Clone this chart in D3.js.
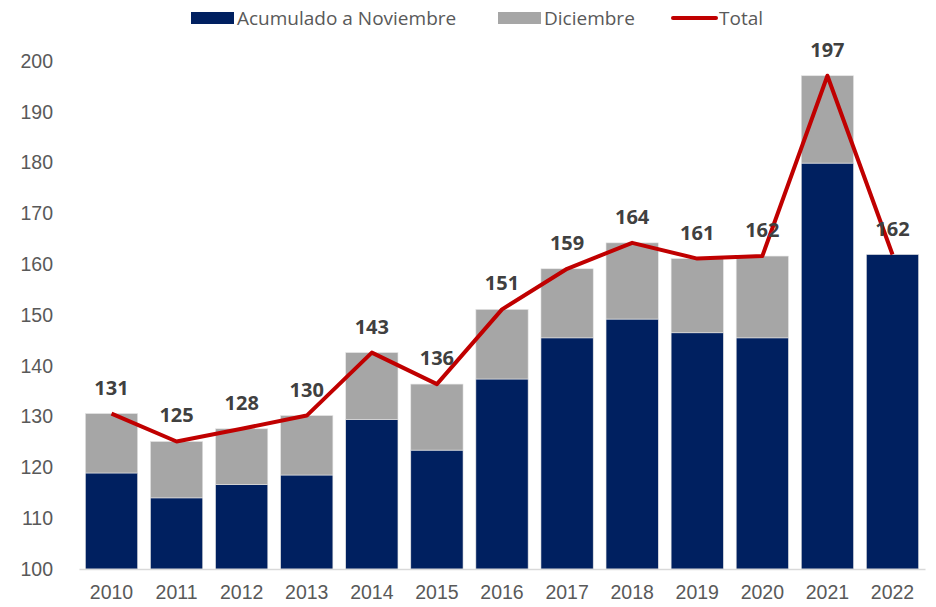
<!DOCTYPE html>
<html>
<head>
<meta charset="utf-8">
<script src="https://cdn.jsdelivr.net/npm/d3@7"></script>
<style>
  body { margin: 0; background: #fff; }
  svg { display: block; font-family: "Open Sans", Lato, sans-serif; }
</style>
</head>
<body>
<svg id="chart" width="936" height="607"></svg>
<script>
// data
const years = ['2010', '2011', '2012', '2013', '2014', '2015', '2016', '2017', '2018', '2019', '2020', '2021', '2022'];
const acumulado = [118.9, 114.0, 116.6, 118.5, 129.4, 123.4, 137.4, 145.5, 149.2, 146.5, 145.5, 179.9, 161.9];
const diciembre = [11.7, 11.1, 11.0, 11.7, 13.2, 13.0, 13.7, 13.6, 15.0, 14.6, 16.1, 17.2, 0];
const yTicks = [100, 110, 120, 130, 140, 150, 160, 170, 180, 190, 200];
const seriesNames = ['Acumulado a Noviembre', 'Diciembre', 'Total'];

const colors = { acum: '#002060', dic: '#A6A6A6', total: '#C00000' };

const rows = years.map((y, i) => ({
    year: y,
    acum: acumulado[i],
    dic: diciembre[i],
    total: acumulado[i] + diciembre[i]
}));

const margin = { top: 61, right: 11, bottom: 38, left: 79 };
const width = 936, height = 607;
const _width = width - margin.left - margin.right;
const _height = height - margin.top - margin.bottom;

const svg = d3.select('#chart');
const g = svg.append('g').attr('transform', `translate(${margin.left},${margin.top})`);

const xScale = d3.scaleBand()
    .domain(years)
    .range([0, _width])
    .paddingInner(0.197)
    .paddingOuter(0.098);

const yScale = d3.scaleLinear()
    .domain([100, 200])
    .range([_height, 0]);

// stacked bars, starting from the axis baseline (100)
const stack = d3.stack().keys(['acum', 'dic']).offset((series) => {
    for (let i = 0; i < series[0].length; i++) {
        series[0][i][0] = 100;
        series[0][i][1] = rows[i].acum;
        series[1][i][0] = rows[i].acum;
        series[1][i][1] = rows[i].acum + rows[i].dic;
    }
});
const stacked = stack(rows);

g.selectAll('.layer')
    .data(stacked)
    .enter()
    .append('g')
    .attr('class', 'layer')
    .attr('fill', (d) => colors[d.key])
    .selectAll('rect')
    .data((d) => d.filter((p) => p[1] > p[0]))
    .enter()
    .append('rect')
    .attr('x', (d) => xScale(d.data.year))
    .attr('y', (d) => yScale(d[1]))
    .attr('width', xScale.bandwidth())
    .attr('height', (d) => yScale(d[0]) - yScale(d[1]))
    .attr('stroke', '#e4e4e4')
    .attr('stroke-width', 0.6);

// axes
const xAxis = d3.axisBottom(xScale).tickSize(0).tickPadding(16);
const yAxis = d3.axisLeft(yScale).tickValues(yTicks).tickSize(0).tickPadding(26);

const gx = g.append('g')
    .attr('transform', `translate(0,${_height})`)
    .call(xAxis);
gx.select('.domain').attr('stroke', '#d9d9d9').attr('stroke-width', 1.5);
gx.selectAll('text').attr('fill', '#595959').style('font-size', '19.5px');

const gy = g.append('g').call(yAxis);
gy.select('.domain').remove();
gy.selectAll('text').attr('fill', '#595959').style('font-size', '19.5px');

// total line
const line = d3.line()
    .x((d) => xScale(d.year) + xScale.bandwidth() / 2)
    .y((d) => yScale(d.total));

g.append('path')
    .datum(rows)
    .attr('fill', 'none')
    .attr('stroke', colors.total)
    .attr('stroke-width', 4)
    .attr('stroke-linejoin', 'round')
    .attr('d', line);

// labels
g.selectAll('.bar-label')
    .data(rows)
    .enter()
    .append('text')
    .attr('class', 'bar-label')
    .attr('x', (d) => xScale(d.year) + xScale.bandwidth() / 2)
    .attr('y', (d) => yScale(d.total) - 19)
    .attr('text-anchor', 'middle')
    .attr('fill', '#404040')
    .style('font-size', '20px')
    .style('font-weight', 'bold')
    .text((d) => Math.round(d.total));

// legend
const legend = svg.append('g').attr('transform', 'translate(0,18)');
const legendX = [191, 498, 673];
seriesNames.forEach((name, i) => {
    const item = legend.append('g').attr('transform', `translate(${legendX[i]},0)`);
    if (i < 2) {
        item.append('rect')
            .attr('x', 0).attr('y', -6)
            .attr('width', 43).attr('height', 12)
            .attr('fill', i === 0 ? colors.acum : colors.dic);
    } else {
        item.append('line')
            .attr('x1', 0).attr('x2', 43)
            .attr('stroke', colors.total)
            .attr('stroke-width', 4)
            .attr('stroke-linecap', 'round');
    }
    item.append('text')
        .attr('x', 46)
        .attr('y', 7)
        .attr('fill', '#595959')
        .style('font-size', '19px')
        .text(name);
});
</script>
</body>
</html>
